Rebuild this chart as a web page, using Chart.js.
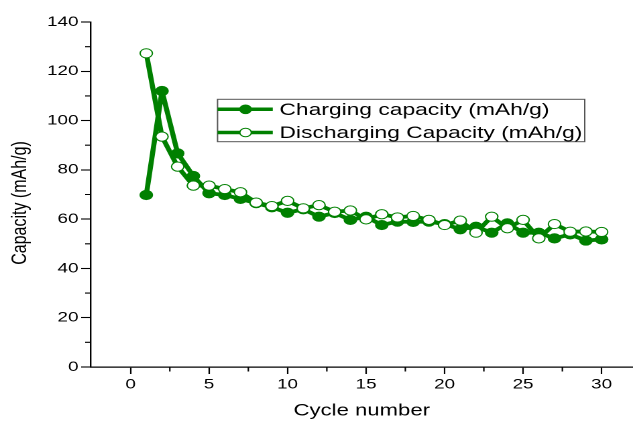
<!DOCTYPE html>
<html>
<head>
<meta charset="utf-8">
<script src="https://cdn.jsdelivr.net/npm/chart.js@4.4.1/dist/chart.umd.min.js"></script>
<style>
  html, body { margin: 0; padding: 0; background: #ffffff; overflow: hidden; }
  #wrap { position: absolute; left: 0; top: 0; width: 472px; height: 421px; transform: scaleX(1.3411); transform-origin: 0 0; }
  #c { display: block; width: 472px; height: 421px; }
</style>
</head>
<body>
<div id="wrap"><canvas id="c" width="472" height="421"></canvas></div>
<script>
// ---- data ----
const cycles = [1, 2, 3, 4, 5, 6, 7, 8, 9, 10, 11, 12, 13, 14, 15, 16, 17, 18, 19, 20, 21, 22, 23, 24, 25, 26, 27, 28, 29, 30];
const charging = [69.8, 112, 86.7, 77.5, 70.5, 69.8, 68.2, 66.5, 64.8, 62.6, 64, 61, 62.5, 59.7, 61, 57.6, 59, 58.9, 59, 58, 55.9, 56.9, 54.5, 58.3, 54.5, 54.5, 52.2, 53.8, 51.3, 51.8];
const discharging = [127.3, 93.5, 81.3, 73.6, 73.6, 72.2, 70.9, 66.7, 65.3, 67.4, 64.4, 65.7, 63, 63.5, 59.9, 62, 60.7, 61.3, 59.7, 57.6, 59.4, 54.5, 61, 56.3, 59.7, 52.2, 58, 54.9, 55, 54.8];
const seriesNames = ['Charging capacity (mAh/g)', 'Discharging Capacity (mAh/g)'];
const xTitle = 'Cycle number';
const yTitle = 'Capacity (mAh/g)';
const xTicks = [0, 5, 10, 15, 20, 25, 30];
const yTicks = [0, 20, 40, 60, 80, 100, 120, 140];
const xMinorTicks = [2.5, 7.5, 12.5, 17.5, 22.5, 27.5];
const yMinorTicks = [10, 30, 50, 70, 90, 110, 130];

const GREEN = '#008000';
const FONT = '"Liberation Sans", Arial, sans-serif';

const extras = {
  id: 'extras',
  afterDraw(chart) {
    const ctx = chart.ctx;
    const xs = chart.scales.x, ys = chart.scales.y;
    const area = chart.chartArea;
    ctx.save();
    // minor ticks
    ctx.strokeStyle = '#000';
    ctx.lineWidth = 1.1;
    ctx.beginPath();
    xMinorTicks.forEach(v => {
      const px = xs.getPixelForValue(v);
      ctx.moveTo(px, area.bottom);
      ctx.lineTo(px, area.bottom + 4.5);
    });
    yMinorTicks.forEach(v => {
      const py = ys.getPixelForValue(v);
      ctx.moveTo(area.left, py);
      ctx.lineTo(area.left - 4, py);
    });
    ctx.stroke();

    // y axis title
    ctx.save();
    ctx.translate(14.9, 203);
    ctx.rotate(-Math.PI / 2);
    ctx.font = '16px ' + FONT;
    ctx.fillStyle = '#000';
    ctx.textAlign = 'center';
    ctx.textBaseline = 'middle';
    ctx.fillText(yTitle, 0, 0);
    ctx.restore();

    // legend box
    const bx = 162.2, by = 99.3, bw = 273.8, bh = 42.4;
    ctx.strokeStyle = '#555';
    ctx.lineWidth = 1;
    ctx.strokeRect(bx, by, bw, bh);
    const rows = [109.3, 132.5];
    ctx.font = '17px ' + FONT;
    ctx.textBaseline = 'middle';
    ctx.textAlign = 'left';
    rows.forEach((ry, i) => {
      ctx.strokeStyle = GREEN;
      ctx.lineWidth = 3.5;
      ctx.beginPath();
      ctx.moveTo(bx, ry);
      ctx.lineTo(bx + 41.2, ry);
      ctx.stroke();
      ctx.beginPath();
      ctx.arc(bx + 20.9, ry, 4.3, 0, Math.PI * 2);
      ctx.fillStyle = i === 0 ? GREEN : '#fff';
      ctx.fill();
      ctx.lineWidth = 1;
      ctx.strokeStyle = GREEN;
      ctx.stroke();
      ctx.fillStyle = '#000';
      ctx.fillText(seriesNames[i], bx + 46.2, ry + 1);
    });
    ctx.restore();
  }
};

new Chart(document.getElementById('c'), {
  type: 'line',
  data: {
    datasets: [
      {
        label: seriesNames[0],
        data: cycles.map((c, i) => ({ x: c, y: charging[i] })),
        borderColor: GREEN,
        backgroundColor: GREEN,
        borderWidth: 3.8,
        borderJoinStyle: 'round',
        borderCapStyle: 'round',
        pointRadius: 4.6,
        pointBorderWidth: 1,
        pointBackgroundColor: GREEN,
        pointBorderColor: GREEN,
        tension: 0,
        order: 1
      },
      {
        label: seriesNames[1],
        data: cycles.map((c, i) => ({ x: c, y: discharging[i] })),
        borderColor: GREEN,
        backgroundColor: '#fff',
        borderWidth: 3.8,
        borderJoinStyle: 'round',
        borderCapStyle: 'round',
        pointRadius: 4.6,
        pointBorderWidth: 1,
        pointBackgroundColor: '#ffffff',
        pointBorderColor: GREEN,
        tension: 0,
        order: 0
      }
    ]
  },
  options: {
    responsive: false,
    animation: false,
    devicePixelRatio: 2,
    layout: { autoPadding: false, padding: { top: 22, right: 0, bottom: 0, left: 0 } },
    plugins: { legend: { display: false }, tooltip: { enabled: false } },
    scales: {
      x: {
        type: 'linear',
        min: -2.55,
        max: 32,
        afterBuildTicks: s => { s.ticks = xTicks.map(v => ({ value: v })); },
        afterFit: s => { s.height = 54; s.paddingRight = 0; s.paddingLeft = 0; },
        grid: { display: true, drawOnChartArea: false, drawTicks: true, tickLength: 7, color: '#000', tickWidth: 1.1 },
        border: { display: true, color: '#000', width: 1.2 },
        ticks: { color: '#000', font: { family: FONT, size: 14 }, padding: 2, maxRotation: 0, autoSkip: false },
        title: { display: true, text: xTitle, color: '#000', font: { family: FONT, size: 16.5 }, padding: { top: 2, bottom: 0 } }
      },
      y: {
        type: 'linear',
        min: 0,
        max: 140,
        afterBuildTicks: s => { s.ticks = yTicks.map(v => ({ value: v })); },
        afterFit: s => { s.width = 67.5; },
        grid: { display: true, drawOnChartArea: false, drawTicks: true, tickLength: 7, color: '#000', tickWidth: 1.1 },
        border: { display: true, color: '#000', width: 1.2 },
        ticks: { color: '#000', font: { family: FONT, size: 14 }, padding: 2, autoSkip: false },
        title: { display: false, text: yTitle }
      }
    }
  },
  plugins: [extras]
});
</script>
</body>
</html>
